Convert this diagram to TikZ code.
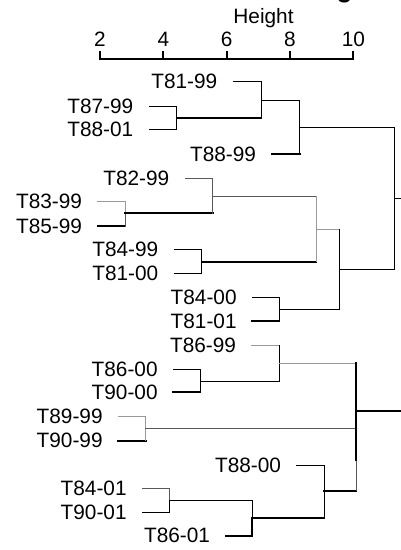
\documentclass[tikz,border=0pt]{standalone}
\usepackage{fontspec}
\setmainfont{Liberation Sans}
\usetikzlibrary{positioning}

\begin{document}
\begin{tikzpicture}[x=1pt,y=-1pt,line cap=rect,
    leaf/.style={inner sep=0pt,font=\fontsize{20.8}{25}\selectfont},
    scale label/.style={anchor=base,inner sep=0pt,font=\fontsize{20.8}{25}\selectfont},
    fine/.style={line width=1pt},
    heavy/.style={line width=2pt},
    pale/.style={fine,color=black!40},
    mid/.style={fine,color=black!65}]
    \useasboundingbox (0,0) rectangle (401,550);

    % title (cut off at the top) and height scale
    \node[anchor=base,inner sep=0pt,font=\fontsize{26}{30}\selectfont\bfseries] (ttl) at (344.5,-2.6) {g};
    \node[scale label] (ht) at (263.5,23.3) {Height};
    \coordinate (ax2) at (100,59.3);
    \coordinate (ax10) at (353.3,59.3);
    \draw[heavy] (ax2) -- (ax10);
    \foreach \v in {2,4,6,8,10} {
        \coordinate (tk\v) at ({100+(\v-2)*31.67},59.3);
        \draw[heavy] (tk\v) -- ++(0,-7);
        \node[scale label] (lb\v) at ({100+(\v-2)*31.67},46.7) {\v};
    }

    % merge points
    \coordinate (a) at (176.7,118.3);
    \coordinate (b) at (261,100);
    \coordinate (c) at (299.5,127.7);
    \coordinate (d) at (125.3,213.3);
    \coordinate (e) at (212.7,196);
    \coordinate (f) at (201.7,261.7);
    \coordinate (g) at (316,229);
    \coordinate (h) at (279,309);
    \coordinate (i) at (339.3,269.3);
    \coordinate (j) at (394.5,198.3);
    \coordinate (jend) at (401,198.3);
    \coordinate (k) at (200,381);
    \coordinate (m) at (279,363.3);
    \coordinate (n) at (145.7,428.3);
    \coordinate (o) at (169.3,500);
    \coordinate (p) at (252.3,517.7);
    \coordinate (q) at (324.3,490.7);
    \coordinate (r) at (356,410.7);
    \coordinate (rend) at (401,410.7);

    % leaves
    \coordinate (t8199) at (233,81.7);
    \coordinate (t8799) at (149,106.7);
    \coordinate (t8801) at (149,129.3);
    \coordinate (t8899) at (271.7,154);
    \coordinate (t8299) at (185,178.3);
    \coordinate (t8399) at (97.7,201.7);
    \coordinate (t8599) at (97.7,226);
    \coordinate (t8499) at (174,249.3);
    \coordinate (t8100) at (174,273.3);
    \coordinate (t8400) at (252.3,297.7);
    \coordinate (t8101) at (252.3,321);
    \coordinate (t8699) at (251.7,345);
    \coordinate (t8600) at (173.3,369.3);
    \coordinate (t9000) at (173.3,392.3);
    \coordinate (t8999) at (118.3,416.7);
    \coordinate (t9099) at (118.3,440.7);
    \coordinate (t8800) at (296.7,465);
    \coordinate (t8401) at (142.3,488.3);
    \coordinate (t9001) at (142.3,512.3);
    \coordinate (t8601) at (225.7,535.7);

    \node[leaf] (n8199) [left=15.5pt of t8199] {T81-99};
    \node[leaf] (n8799) [left=15.5pt of t8799] {T87-99};
    \node[leaf] (n8801) [left=15.5pt of t8801] {T88-01};
    \node[leaf] (n8899) [left=15.5pt of t8899] {T88-99};
    \node[leaf] (n8299) [left=15.5pt of t8299] {T82-99};
    \node[leaf] (n8399) [left=15.5pt of t8399] {T83-99};
    \node[leaf] (n8599) [left=15.5pt of t8599] {T85-99};
    \node[leaf] (n8499) [left=15.5pt of t8499] {T84-99};
    \node[leaf] (n8100) [left=15.5pt of t8100] {T81-00};
    \node[leaf] (n8400) [left=15.5pt of t8400] {T84-00};
    \node[leaf] (n8101) [left=15.5pt of t8101] {T81-01};
    \node[leaf] (n8699) [left=15.5pt of t8699] {T86-99};
    \node[leaf] (n8600) [left=15.5pt of t8600] {T86-00};
    \node[leaf] (n9000) [left=15.5pt of t9000] {T90-00};
    \node[leaf] (n8999) [left=15.5pt of t8999] {T89-99};
    \node[leaf] (n9099) [left=15.5pt of t9099] {T90-99};
    \node[leaf] (n8800) [left=15.5pt of t8800] {T88-00};
    \node[leaf] (n8401) [left=15.5pt of t8401] {T84-01};
    \node[leaf] (n9001) [left=15.5pt of t9001] {T90-01};
    \node[leaf] (n8601) [left=15.5pt of t8601] {T86-01};

    % upper tree
    \draw[fine] (t8199) -| (b);
    \draw[fine] (t8799) -| (a);
    \draw[fine] (t8801) -| (a);
    \draw[heavy] (a) -- (a -| b);
    \draw[fine] (a -| b) -- (b);
    \draw[fine] (b) -| (c);
    \draw[heavy] (t8899) -- (t8899 -| c);
    \draw[fine] (t8899 -| c) -- (c);
    \draw[fine] (c) -| (j);
    \draw[mid] (t8299) -| (e);
    \draw[pale] (t8399) -| (d);
    \draw[heavy] (t8599) -- (t8599 -| d);
    \draw[mid] (t8599 -| d) -- (d);
    \draw[heavy] (d) -- (d -| e);
    \draw[mid] (d -| e) -- (e);
    \draw[mid] (e) -- (e -| g);
    \draw[pale] (e -| g) -- (g);
    \draw[fine] (t8499) -| (f);
    \draw[fine] (t8100) -| (f);
    \draw[heavy] (f) -- (f -| g);
    \draw[pale] (f -| g) -- (g);
    \draw[pale] (g) -- (g -| i);
    \draw[fine] (g -| i) -- (i);
    \draw[fine] (t8400) -| (h);
    \draw[heavy] (t8101) -- (t8101 -| h);
    \draw[fine] (t8101 -| h) -- (h);
    \draw[fine] (h) -| (i);
    \draw[fine] (i) -| (j);
    \draw[fine] (j) -- (jend);

    % lower tree
    \draw[pale] (t8699) -- (t8699 -| m);
    \draw[fine] (t8699 -| m) -- (m);
    \draw[fine] (t8600) -| (k);
    \draw[heavy] (t9000) -- (t9000 -| k);
    \draw[fine] (t9000 -| k) -- (k);
    \draw[fine] (k) -| (m);
    \draw[pale] (m) -- (m -| r);
    \draw[heavy] (m -| r) -- (r);
    \draw[pale] (t8999) -| (n);
    \draw[heavy] (t9099) -- (t9099 -| n);
    \draw[pale] (t9099 -| n) -- (n);
    \draw[mid] (n) -- (n -| r);
    \draw[heavy] (n -| r) -- (r);
    \draw[fine] (t8800) -| (q);
    \draw[mid] (t8401) -| (o);
    \draw[fine] (t9001) -| (o);
    \draw[fine] (o) -| (p);
    \draw[heavy] (t8601) -| (p);
    \draw[heavy] (p) -- (p -| q);
    \draw[fine] (p -| q) -- (q);
    \draw[heavy] (q) -- (q -| r);
    \draw[mid] (q -| r) -- ([yshift=30.7pt]q -| r);
    \draw[heavy] ([yshift=30.7pt]q -| r) -- (r);
    \draw[heavy] (r) -- (rend);
\end{tikzpicture}
\end{document}
